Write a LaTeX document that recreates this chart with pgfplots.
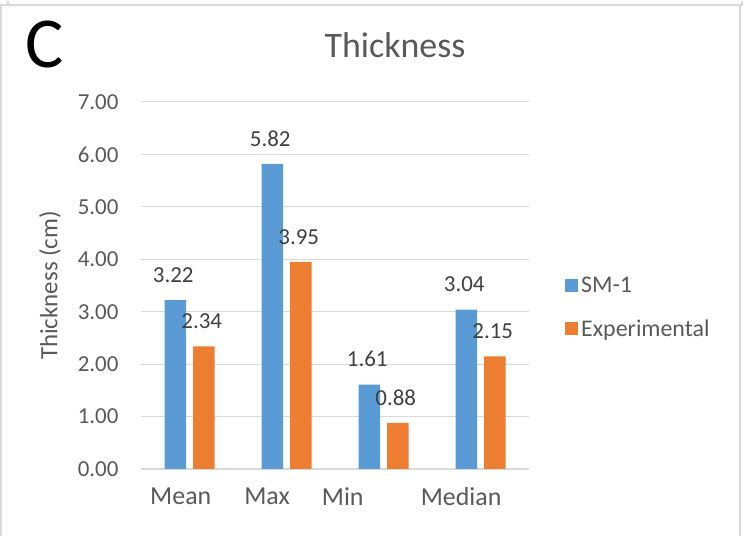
\documentclass[border=0pt]{standalone}
\usepackage{pgfplots}
\pgfplotsset{compat=1.18}
\usepackage{fontspec}
\setmainfont{Carlito}
\definecolor{xlblue}{RGB}{91,155,213}
\definecolor{xlorange}{RGB}{237,125,49}
\definecolor{xltext}{RGB}{89,89,89}
\definecolor{xllabel}{RGB}{64,64,64}
\definecolor{xlgrid}{RGB}{217,217,217}

\begin{document}
\begin{tikzpicture}[x=1bp,y=1bp]
% page frame (749 x 535)
\path (0,0) rectangle (749,535);
\draw[xlgrid, line width=2bp] (1,0) -- (1,531) -- (740,531) -- (740,0);
\draw[xlgrid, line width=2bp] (8,535) -- (8,531);
\draw[xlgrid, line width=2bp] (740,531) -- (742,531) -- (742,535);

\node[font=\fontsize{72}{80}\selectfont, text=black] at (45,492) {C};
\node[font=\fontsize{36}{40}\selectfont, text=xltext] at (395,491) {Thickness};

\begin{axis}[
  at={(141bp,67bp)}, anchor=south west,
  scale only axis, width=388bp, height=367bp,
  ybar=7bp, bar width=21.5bp,
  xmin=-0.5, xmax=3.5, ymin=0, ymax=7,
  xtick={-0.09,0.8,1.58,2.8},
  xticklabels={Mean,Max,Min,Median},
  ytick={0,1,...,7},
  axis line style={draw=none},
  axis x line*=bottom,
  extra y ticks={0}, extra y tick style={grid=major, major grid style={xlgrid, line width=1.5bp}, yticklabels={}},
  ymajorgrids, major grid style={xlgrid, line width=1bp},
  major tick length=0pt,
  tick style={draw=none},
  /pgf/number format/.cd, fixed, fixed zerofill, precision=2, assume math mode=true,
  /pgfplots/.cd,
  yticklabel style={font=\fontsize{23}{26}\selectfont, text=xltext, xshift=-19bp},
  xticklabel style={font=\fontsize{26}{30}\selectfont, text=xltext, yshift=-15bp},
  ylabel={Thickness (cm)},
  every axis y label/.style={at={(rel axis cs:0,0.5)}, xshift=-91bp, rotate=90, anchor=center,
    font=\fontsize{25}{28}\selectfont, text=xltext},
  nodes near coords,
  every node near coord/.append style={font=\fontsize{23}{26}\selectfont, text=xllabel, yshift=14bp, xshift=-2bp},
  legend style={draw=none, fill=none, at={(rel axis cs:1.085,0.441)}, anchor=west,
    font=\fontsize{24}{27}\selectfont, text=xltext, row sep=20bp,
    nodes={inner sep=3bp}},
  legend cell align=left,
  legend image code/.code={\fill[#1, draw=none] (0bp,-6.5bp) rectangle (13bp,6.5bp);},
]
\addplot[fill=xlblue, draw=none] coordinates {(0,3.22) (1,5.82) (2,1.61) (3,3.04)};
\addplot[fill=xlorange, draw=none] coordinates {(0,2.34) (1,3.95) (2,0.88) (3,2.15)};
\legend{SM-1,Experimental}
\end{axis}
\end{tikzpicture}
\end{document}
